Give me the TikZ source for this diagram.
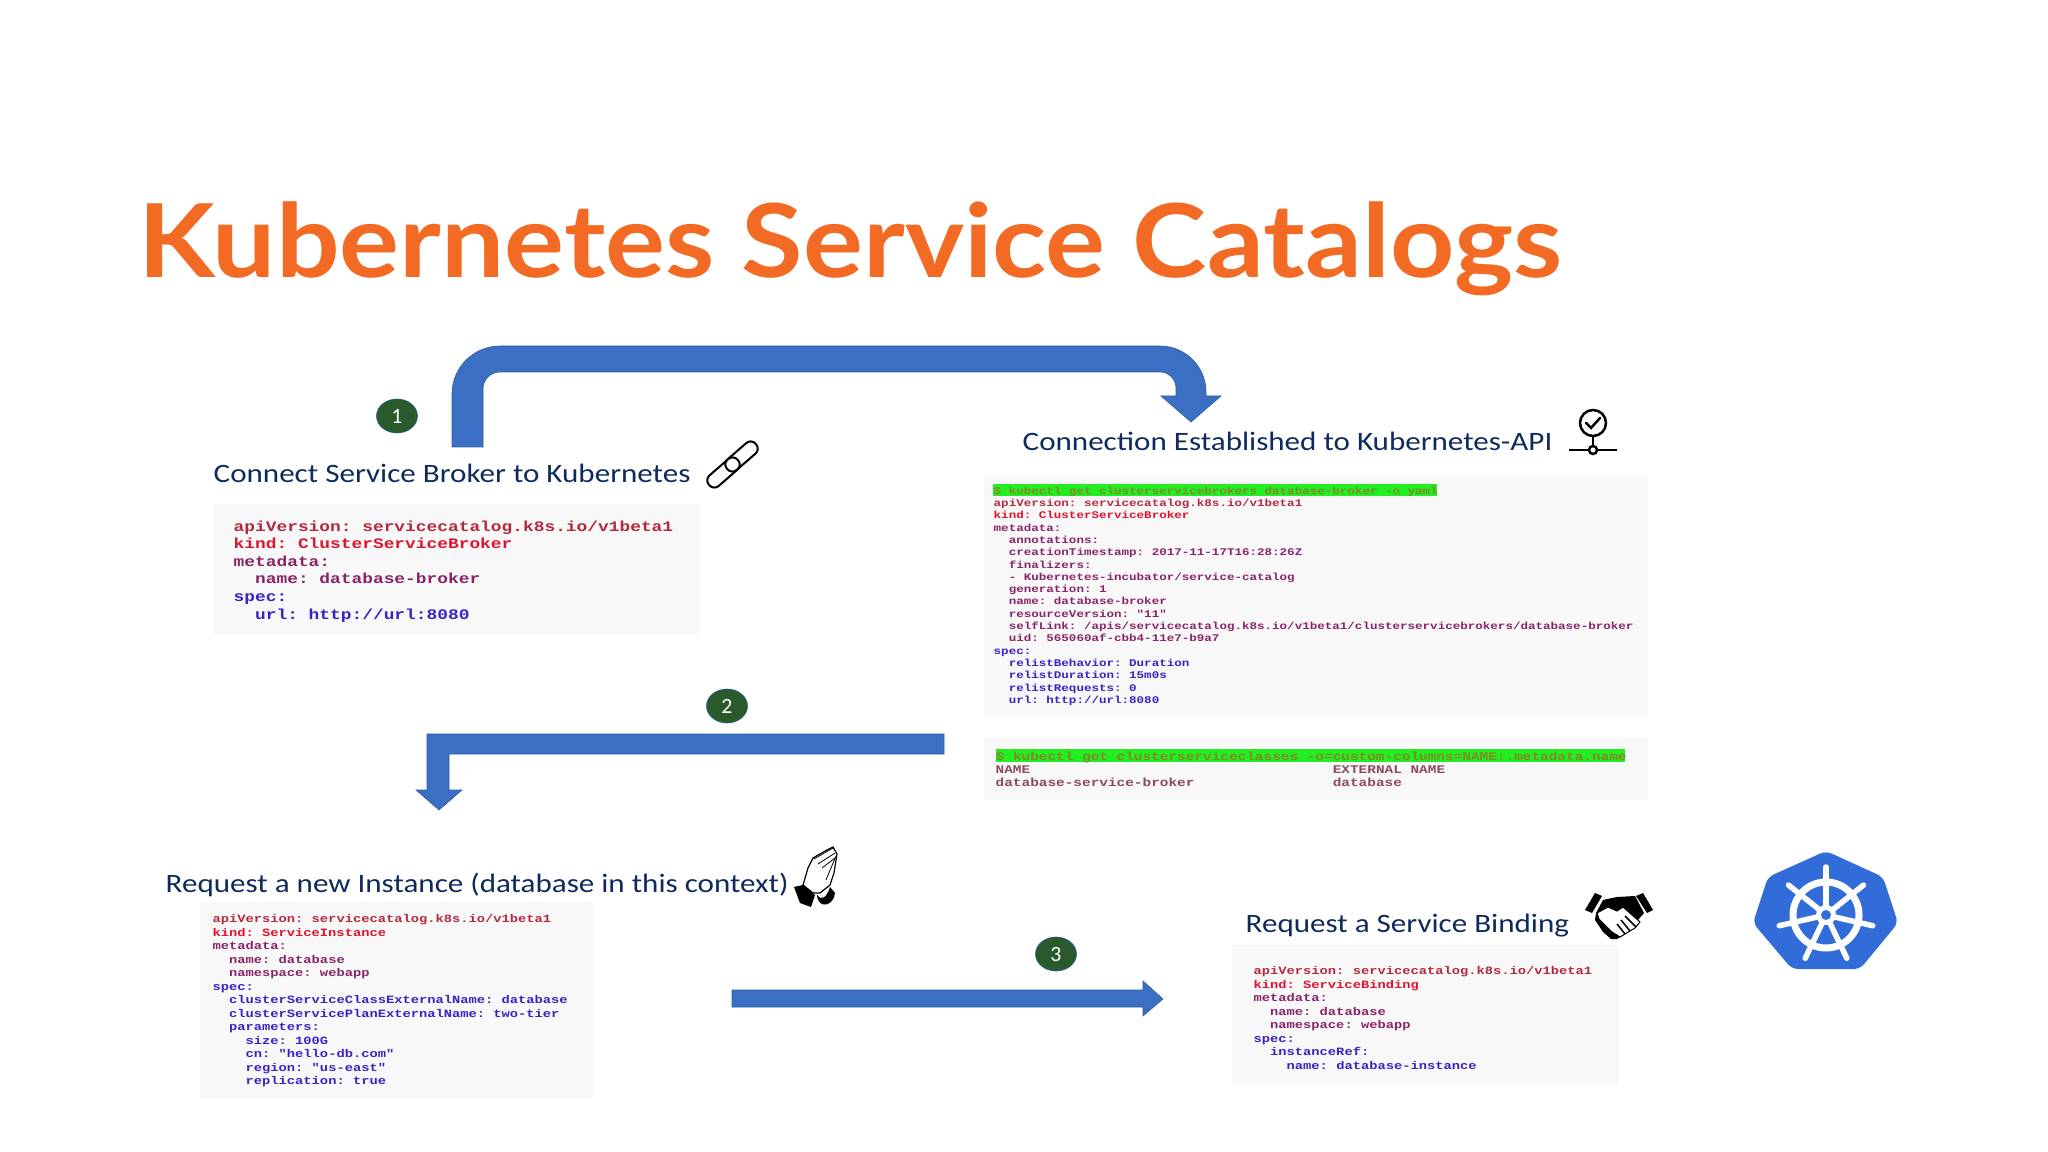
\documentclass[tikz,border=0pt]{standalone}
\usepackage{fontspec}
\usetikzlibrary{shapes.geometric}
\setmainfont{Carlito}
\newfontfamily\titlefont[FakeStretch=1.1]{Lato}
\newfontfamily\labelfont[FakeStretch=1.17]{Carlito}
\newfontfamily\yamlfont[FakeStretch=1.23]{Liberation Mono}

\definecolor{arrowblue}{HTML}{3A6FC4}
\definecolor{arrowedge}{HTML}{2F5C9F}
\definecolor{badgegreen}{HTML}{2A5A2C}
\definecolor{titleorange}{HTML}{F36A24}
\definecolor{labelnavy}{HTML}{0F2A5C}
\definecolor{boxgray}{HTML}{F8F8F9}
\definecolor{cmdgreen}{HTML}{22EE22}
\definecolor{cmdtext}{HTML}{7F8A2A}
\definecolor{apired}{HTML}{B5293F}
\definecolor{kindred}{HTML}{E0132F}
\definecolor{metapurple}{HTML}{8A2468}
\definecolor{specblue}{HTML}{3A22C4}
\definecolor{tablerose}{HTML}{8C4A5C}
\definecolor{k8sblue}{HTML}{326CD8}

\tikzset{
	blockarrow/.style={fill=arrowblue, draw=arrowedge, line width=0.06mm},
	badge/.style={ellipse, fill=badgegreen, draw=arrowedge, line width=0.06mm, minimum width=4.1mm, minimum height=3.4mm, inner sep=0pt, text=white, font=\fontsize{6.2}{7}\selectfont},
	steplabel/.style={anchor=base west, inner sep=0pt, text=labelnavy, font=\labelfont\fontsize{7.55}{9}\selectfont},
	yamlbox/.style={fill=boxgray, draw=none},
	yamltext/.style={anchor=north west, inner sep=0pt, align=left},
	chainlink/.style={line width=0.2mm, rounded corners=0.65mm},
	iconline/.style={draw=black, line width=0.25mm},
}

\newcommand{\apiline}[1]{\textcolor{apired}{#1}}
\newcommand{\kindline}[1]{\textcolor{kindred}{#1}}
\newcommand{\metaline}[1]{\textcolor{metapurple}{#1}}
\newcommand{\specline}[1]{\textcolor{specblue}{#1}}

\begin{document}
\frenchspacing
\begin{tikzpicture}[x=0.01cm, y=-0.01cm]
	\useasboundingbox (0,0) rectangle (2048,1152);
	\fill[white] (0,0) rectangle (2048,1152);

	\node[anchor=base west, inner sep=0pt, text=titleorange, font=\titlefont\bfseries\fontsize{29}{32}\selectfont] (title) at (138,278) {Kubernetes Service Catalogs};

	% gray panels behind the yaml
	\fill[yamlbox] (214,504) rectangle (700,634);
	\fill[yamlbox] (984,475) rectangle (1648,717);
	\fill[yamlbox] (984,738) rectangle (1648,800);
	\fill[yamlbox] (200,902) rectangle (593,1098);
	\fill[yamlbox] (1232,945) rectangle (1619,1085);
	\fill[cmdgreen] (993,484) rectangle (1437,496);
	\fill[cmdgreen] (996,749) rectangle (1625,762);

	% arrows
	\filldraw[blockarrow] (452,447) -- (452,394) arc [radius=48, start angle=180, end angle=270]
		-- (1160,346) arc [radius=46, start angle=-90, delta angle=90]
		-- (1206,396) -- (1221,396) -- (1191,422) -- (1161,396) -- (1176,396)
		-- (1176,388) arc [radius=16, start angle=0, delta angle=-90]
		-- (500,372) arc [radius=17, start angle=-90, delta angle=-90]
		-- (483,447) -- cycle;
	\filldraw[blockarrow] (944,734) -- (427,734) -- (427,790) -- (416,790) -- (439,810) -- (462,790) -- (449,790) -- (449,754) -- (944,754) -- cycle;
	\filldraw[blockarrow] (732,990) -- (1143,990) -- (1143,981) -- (1163,999) -- (1143,1016) -- (1143,1007) -- (732,1007) -- cycle;

	\node[badge] (one) at (397,416) {1};
	\node[badge] (two) at (727,706) {2};
	\node[badge] (three) at (1056,954) {3};

	\node[steplabel] (connect) at (213,483) {Connect Service Broker to Kubernetes};
	\node[steplabel] (established) at (1022,451) {Connection Established to Kubernetes-API};
	\node[steplabel] (instance) at (165,892) {Request a new Instance (database in this context)};
	\node[steplabel] (binding) at (1245,932) {Request a Service Binding};

	% yaml
	\node[yamltext, font=\yamlfont\bfseries\fontsize{4.13}{5}\selectfont] (brokeryaml) at (233,520) {\apiline{apiVersion: servicecatalog.k8s.io/v1beta1}\\
		\kindline{kind: ClusterServiceBroker}\\
		\metaline{metadata:}\\
		\metaline{~~name: database-broker}\\
		\specline{spec:}\\
		\specline{~~url: http://url:8080}};
	\node[yamltext, font=\yamlfont\bfseries\fontsize{2.9}{3.5}\selectfont] (statusyaml) at (993,486) {\textcolor{cmdtext}{\$ kubectl get clusterservicebrokers database-broker -o yaml}\\
		\apiline{apiVersion: servicecatalog.k8s.io/v1beta1}\\
		\kindline{kind: ClusterServiceBroker}\\
		\metaline{metadata:}\\
		\metaline{~~annotations:}\\
		\metaline{~~creationTimestamp: 2017-11-17T16:28:26Z}\\
		\metaline{~~finalizers:}\\
		\metaline{~~- Kubernetes-incubator/service-catalog}\\
		\metaline{~~generation: 1}\\
		\metaline{~~name: database-broker}\\
		\metaline{~~resourceVersion: "11"}\\
		\metaline{~~selfLink: /apis/servicecatalog.k8s.io/v1beta1/clusterservicebrokers/database-broker}\\
		\metaline{~~uid: 565060af-cbb4-11e7-b9a7}\\
		\specline{spec:}\\
		\specline{~~relistBehavior: Duration}\\
		\specline{~~relistDuration: 15m0s}\\
		\specline{~~relistRequests: 0}\\
		\specline{~~url: http://url:8080}};
	\node[yamltext, font=\yamlfont\bfseries\fontsize{3.33}{3.78}\selectfont] (classtable) at (995,751) {\textcolor{cmdtext}{\$ kubectl get clusterserviceclasses -o=custom-columns=NAME:.metadata.name}\\
		\textcolor{tablerose}{NAME~~~~~~~~~~~~~~~~~~~~~~~~~~~~~~~~~~~EXTERNAL NAME}\\
		\textcolor{tablerose}{database-service-broker~~~~~~~~~~~~~~~~database}};
	\node[yamltext, font=\yamlfont\bfseries\fontsize{3.18}{3.84}\selectfont] (instanceyaml) at (212,914) {\apiline{apiVersion: servicecatalog.k8s.io/v1beta1}\\
		\kindline{kind: ServiceInstance}\\
		\metaline{metadata:}\\
		\metaline{~~name: database}\\
		\metaline{~~namespace: webapp}\\
		\specline{spec:}\\
		\specline{~~clusterServiceClassExternalName: database}\\
		\specline{~~clusterServicePlanExternalName: two-tier}\\
		\specline{~~parameters:}\\
		\specline{~~~~size: 100G}\\
		\specline{~~~~cn: "hello-db.com"}\\
		\specline{~~~~region: "us-east"}\\
		\specline{~~~~replication: true}};
	\node[yamltext, font=\yamlfont\bfseries\fontsize{3.18}{3.84}\selectfont] (bindingyaml) at (1253,966) {\apiline{apiVersion: servicecatalog.k8s.io/v1beta1}\\
		\kindline{kind: ServiceBinding}\\
		\metaline{metadata:}\\
		\metaline{~~name: database}\\
		\metaline{~~namespace: webapp}\\
		\specline{spec:}\\
		\specline{~~instanceRef:}\\
		\specline{~~~~name: database-instance}};

	% chain
	\draw[chainlink, rotate around={41:(723.5,472.5)}] (704.5,465.5) rectangle (742.5,479.5);
	\draw[chainlink, rotate around={41:(741.5,456.5)}] (722.5,449.5) rectangle (760.5,463.5);

	% pin with check
	\draw[iconline] (1593,423) circle (13);
	\draw[iconline, line cap=round] (1586,423) -- (1591,428) -- (1600,418);
	\draw[iconline] (1593,436) -- (1593,446);
	\draw[iconline] (1569,450) -- (1617,450);
	\filldraw[iconline, fill=white] (1593,450) circle (4);

	% praying hands
	\draw[line width=0.12mm, fill=white] (803,885) -- (808,868) -- (813,858) -- (827,850) -- (833,847) -- (837,854) -- (834,873) -- (830,885) -- (820,893) -- (813,893) -- cycle;
	\draw[line width=0.08mm] (814,859) -- (833,848) (818,864) -- (835,853) (822,868) -- (835,858) (826,880) -- (836,856);
	\fill[black] (794,887) -- (803,885) -- (815,895) -- (811,907) -- (800,903) -- cycle;
	\fill[black] (817,895) .. controls (820,900) and (826,900) .. (830,887) -- (835,893) .. controls (834,906) and (818,910) .. (817,895) -- cycle;

	% handshake
	\fill[black] (1595,893) -- (1602,896) -- (1592,913) -- (1585,910) -- cycle;
	\fill[black] (1643,893) -- (1636,896) -- (1647,913) -- (1653,910) -- cycle;
	\fill[black] (1603,900) -- (1617,897) -- (1635,896) -- (1644,913) -- (1628,932) -- (1617,939) -- (1611,939) -- (1603,932) -- (1595,920) -- (1596,913) -- cycle;
	\filldraw[fill=white, draw=black, line width=0.1mm] (1597,913) -- (1608,907) -- (1617,911) -- (1623,907) -- (1640,922) -- (1635,928) -- (1620,937) -- (1612,932) -- (1599,919) -- cycle;
	\draw[black, line width=0.15mm] (1625,916) -- (1636,927) (1621,920) -- (1630,931) (1617,924) -- (1625,934);

	% wheel
	\fill[k8sblue, rounded corners=0.6mm] (1826,851) -- (1883,877) -- (1898,923) -- (1860,969) -- (1792,969) -- (1753,923) -- (1768,877) -- cycle;
	\draw[white, line width=0.7mm] (1826,915) circle (33);
	\foreach \ang in {-90,-38.6,12.9,64.3,115.7,167.1,218.6} {
		\draw[white, line width=0.55mm, line cap=round] (1826,915) -- ++(\ang:48);
	}
	\fill[white] (1826,915) circle (10);
	\fill[k8sblue] (1826,915) circle (5);
\end{tikzpicture}
\end{document}
